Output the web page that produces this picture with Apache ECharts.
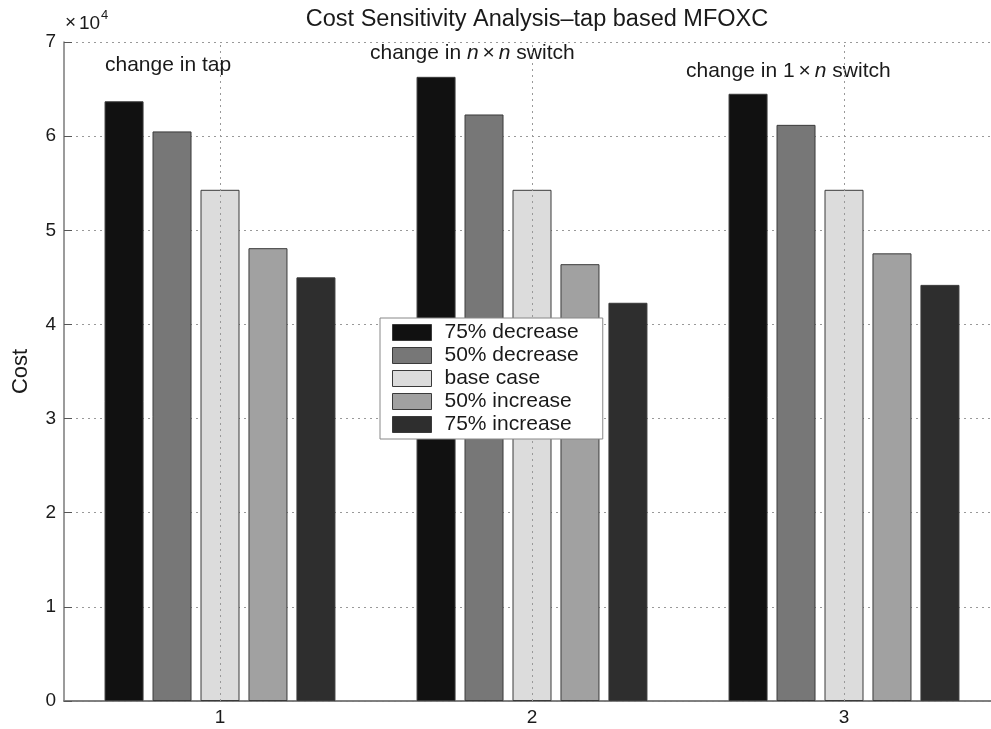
<!DOCTYPE html>
<html>
<head>
<meta charset="utf-8">
<script src="https://cdn.jsdelivr.net/npm/echarts@6/dist/echarts.min.js"></script>
<style>
  html, body { margin: 0; padding: 0; background: #fff; overflow: hidden; }
  /* the original axes box runs a little past the right edge of the picture */
  #chart { width: 1000px; height: 729px; }
</style>
</head>
<body>
<div id="chart"></div>
<script>
const categories = ['1', '2', '3'];
const seriesNames = ['75% decrease', '50% decrease', 'base case', '50% increase', '75% increase'];
const dec75 = [6.37, 6.63, 6.45];
const dec50 = [6.05, 6.23, 6.12];
const baseCase = [5.43, 5.43, 5.43];
const inc50 = [4.81, 4.64, 4.755];
const inc75 = [4.50, 4.23, 4.42];
const yTicks = [0, 1, 2, 3, 4, 5, 6, 7];
const barColors = ['#111111', '#777777', '#dcdcdc', '#a1a1a1', '#2e2e2e'];

const font = '"Liberation Sans", Arial, Helvetica, sans-serif';
const ink = '#1a1a1a';
const axisGray = '#7a7a7a';
const allValues = [dec75, dec50, baseCase, inc50, inc75];

let chart = echarts.init(document.getElementById('chart'));

const series = allValues.map((data, i) => ({
    name: seriesNames[i],
    type: 'bar',
    data,
    barWidth: 39,
    barGap: '23%',
    itemStyle: {
        color: barColors[i],
        borderColor: '#3a3a3a',
        borderWidth: 1
    },
    z: 3
}));
// dotted vertical grid lines at the category centres
series.push({
    name: 'xgrid',
    type: 'line',
    data: [],
    markLine: {
        silent: true,
        symbol: 'none',
        label: { show: false },
        lineStyle: { color: '#999', type: [2, 4], width: 1 },
        data: categories.map(c => ({ xAxis: c }))
    },
    z: 4
});

const annoRich = {
    i: { fontSize: 21, fontStyle: 'italic', fontFamily: font, fill: ink },
    x: { fontSize: 21, fontFamily: font, fill: ink, padding: [0, 4, 0, 4] }
};

chart.setOption({
    animation: false,
    textStyle: { fontFamily: font },
    title: {
        text: 'Cost Sensitivity Analysis\u2013tap based MFOXC',
        left: 532,
        textAlign: 'center',
        top: 3,
        textStyle: { fontSize: 23.5, fontWeight: 'normal', color: ink, fontFamily: font }
    },
    grid: {
        left: 64,
        right: 0,
        top: 42,
        bottom: 28
    },
    legend: {
        orient: 'vertical',
        left: 380,
        top: 318,
        data: seriesNames,
        itemWidth: 39,
        itemHeight: 16,
        itemGap: 0,
        padding: [3, 24, 3, 12],
        backgroundColor: '#fff',
        borderColor: '#888',
        borderWidth: 1,
        borderRadius: 0,
        icon: 'rect',
        itemStyle: { borderColor: '#3a3a3a', borderWidth: 1 },
        textStyle: { fontSize: 21, lineHeight: 23, color: ink, fontFamily: font, padding: [0, 0, 0, 8] },
        selectedMode: false,
        z: 10
    },
    xAxis: [{
        type: 'category',
        data: categories,
        position: 'bottom',
        axisLine: { lineStyle: { color: axisGray, width: 1.5 } },
        axisTick: { inside: true, alignWithLabel: true, length: 8, lineStyle: { color: '#555' } },
        axisLabel: { fontSize: 19, color: ink, margin: 7 },
        splitLine: { show: false }
    }, {
        type: 'category',
        data: categories,
        position: 'top',
        axisLine: { lineStyle: { color: axisGray, width: 1.5 } },
        axisTick: { inside: true, alignWithLabel: true, length: 8, lineStyle: { color: '#555' } },
        axisLabel: { show: false },
        splitLine: { show: false }
    }],
    yAxis: [{
        type: 'value',
        min: yTicks[0],
        max: yTicks[yTicks.length - 1],
        interval: 1,
        name: 'Cost',
        nameLocation: 'middle',
        nameGap: 32,
        nameTextStyle: { fontSize: 22, color: ink },
        axisLine: { show: true, lineStyle: { color: axisGray, width: 1.5 } },
        axisTick: { show: true, inside: true, length: 8, lineStyle: { color: '#555' } },
        axisLabel: { fontSize: 19, color: ink, margin: 8 },
        splitLine: { show: true, lineStyle: { color: '#999', type: [2, 4], width: 1 } }
    }, {
        type: 'value',
        min: yTicks[0],
        max: yTicks[yTicks.length - 1],
        interval: 1,
        position: 'right',
        axisLine: { show: true, lineStyle: { color: axisGray, width: 1.5 } },
        axisTick: { show: true, inside: true, length: 8 },
        axisLabel: { show: false },
        splitLine: { show: false }
    }],
    graphic: [{
        type: 'text',
        left: 65,
        top: 13,
        style: { text: '\u00d7', fontSize: 19, fontFamily: font, fill: ink }
    }, {
        type: 'text',
        left: 79,
        top: 14,
        style: { text: '10', fontSize: 19, fontFamily: font, fill: ink }
    }, {
        type: 'text',
        left: 101,
        top: 9,
        style: { text: '4', fontSize: 13, fontFamily: font, fill: ink }
    }, {
        type: 'text',
        left: 105,
        top: 55,
        style: { text: 'change in tap', fontSize: 21, fontFamily: font, fill: ink }
    }, {
        type: 'text',
        left: 370,
        top: 43,
        style: {
            text: 'change in {i|n}{x|\u00d7}{i|n} switch',
            fontSize: 21,
            fontFamily: font,
            fill: ink,
            rich: annoRich
        }
    }, {
        type: 'text',
        left: 686,
        top: 61,
        style: {
            text: 'change in 1{x|\u00d7}{i|n} switch',
            fontSize: 21,
            fontFamily: font,
            fill: ink,
            rich: annoRich
        }
    }],
    series
});
</script>
</body>
</html>
